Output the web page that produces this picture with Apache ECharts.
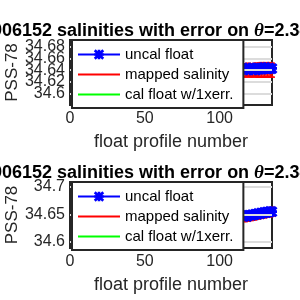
<!DOCTYPE html>
<html><head><meta charset="utf-8">
<script src="https://cdn.jsdelivr.net/npm/echarts@6/dist/echarts.min.js"></script>
<style>html,body{margin:0;padding:0;background:#fff}#c{width:300px;height:300px}</style>
</head><body><div id="c"></div>
<script>
var titleText = '6906152 salinities with error on ';
var titleTheta = 'θ';
var titleRest = '=2.34°C';
var legendNames = ['uncal float', 'mapped salinity', 'cal float w/1xerr.'];
var xTicks = [0, 50, 100];
var yTicksTop = [34.6, 34.62, 34.64, 34.66, 34.68];
var yTicksBottom = [34.6, 34.65, 34.7];

var profiles = [116,117,118,119,120,121,122,123,124,125,126,127,128,129,130,131,132,133,134,135];
var uncalTop = [34.641,34.643,34.640,34.642,34.644,34.641,34.643,34.642,34.640,34.643,34.644,34.642,34.641,34.643,34.645,34.642,34.643,34.644,34.642,34.643];
var mappedTop = [34.640,34.639,34.640,34.641,34.640,34.639,34.640,34.640,34.641,34.640,34.639,34.640,34.641,34.640,34.640,34.641,34.640,34.640,34.641,34.640];
var errTop = [0.011,0.011,0.011,0.011,0.011,0.011,0.011,0.011,0.011,0.012,0.011,0.012,0.012,0.012,0.012,0.012,0.012,0.012,0.012,0.012];
var calTop = [34.641,34.643,34.640,34.642,34.644,34.641,34.643,34.642,34.640,34.643,34.644,34.642,34.641,34.643,34.645,34.642,34.643,34.644,34.642,34.643];

var uncalBottom = [34.647,34.648,34.646,34.648,34.649,34.648,34.650,34.649,34.651,34.650,34.652,34.651,34.653,34.652,34.654,34.653,34.655,34.654,34.656,34.655];
var mappedBottom = [34.645,34.645,34.646,34.646,34.647,34.647,34.648,34.648,34.649,34.650,34.650,34.651,34.651,34.652,34.652,34.653,34.653,34.654,34.654,34.655];
var errBottom = [0.008,0.008,0.008,0.008,0.008,0.008,0.008,0.008,0.008,0.008,0.008,0.008,0.008,0.008,0.008,0.008,0.008,0.008,0.008,0.008];
var calBottom = [34.647,34.648,34.646,34.648,34.649,34.648,34.650,34.649,34.651,34.650,34.652,34.651,34.653,34.652,34.654,34.653,34.655,34.654,34.656,34.655];

var FONT = '"Liberation Sans", Arial, Helvetica, sans-serif';
var AX = '#262626';
var STAR = 'path://M3.6,0h2.8v10h-2.8z M0,3.6h10v2.8h-10z M1.5,-0.5l9,9 -2,2 -9,-9z M8.5,-0.5l2,2 -9,9 -2,-2z';

function pairs(xs, ys){ return xs.map(function(x,i){ return [x, ys[i]]; }); }
function errData(xs, m, e){ return xs.map(function(x,i){ return [x, m[i]-e[i], m[i]+e[i]]; }); }
function everyOther(arr, start){ return arr.filter(function(v,i){ return i % 2 === start; }); }
function errRender(params, api){
  var x = api.value(0);
  var lo = api.coord([x, api.value(1)]);
  var hi = api.coord([x, api.value(2)]);
  var w = 3;
  var st = {stroke:'#ff0000', lineWidth:1.5};
  return {type:'group', children:[
    {type:'line', shape:{x1:lo[0],y1:lo[1],x2:hi[0],y2:hi[1]}, style:st},
    {type:'line', shape:{x1:lo[0]-w,y1:lo[1],x2:lo[0]+w,y2:lo[1]}, style:st},
    {type:'line', shape:{x1:hi[0]-w,y1:hi[1],x2:hi[0]+w,y2:hi[1]}, style:st}
  ]};
}

var grids = [
  {left:70, right:28, top:40, height:65},
  {left:70, right:28, top:182, height:66}
];
var yRanges = [[34.58, 34.692], [34.589, 34.709]];
var yTickSets = [yTicksTop, yTicksBottom];
var titleTops = [22, 164];
var dataSets = [
  {u:uncalTop, m:mappedTop, e:errTop, c:calTop},
  {u:uncalBottom, m:mappedBottom, e:errBottom, c:calBottom}
];

var option = {
  backgroundColor:'#fff',
  animation:false,
  textStyle:{fontFamily:FONT},
  title:[], grid:[], xAxis:[], yAxis:[], series:[], legend:[]
};

function labelAxis(g, vals, withName){
  return {
    type:'value', gridIndex:g, position:'left', offset:0, min:yRanges[g][0], max:yRanges[g][1],
    axisLine:{show:false}, axisTick:{show:false}, splitLine:{show:false},
    axisLabel:{show:vals.length>0, customValues:vals, color:AX, fontSize:16, fontFamily:FONT, margin:5, showMinLabel:true, showMaxLabel:true, hideOverlap:false},
    name: withName ? 'PSS-78' : '', nameLocation:'middle', nameRotate:90, nameGap:49, nameMoveOverlap:false,
    nameTextStyle:{color:AX, fontSize:17, fontFamily:FONT}
  };
}

for (var g=0; g<2; g++){
  option.title.push({
    text:'{a|'+titleText+'}{b|'+titleTheta+'}{a|'+titleRest+'}',
    left:-18, top:titleTops[g], padding:0,
    textStyle:{rich:{
      a:{fontFamily:FONT, fontWeight:'bold', fontSize:18, color:'#000'},
      b:{fontFamily:'"Liberation Serif", "DejaVu Serif", serif', fontStyle:'italic', fontSize:19, color:'#000'}
    }}
  });
  option.grid.push(Object.assign({show:true, borderColor:AX, borderWidth:2, backgroundColor:'#fff', containLabel:false, outerBoundsMode:'none'}, grids[g]));
  option.xAxis.push({
    type:'value', gridIndex:g, min:0, max:135, interval:50,
    axisLine:{show:false}, axisTick:{show:false}, splitLine:{show:false},
    axisLabel:{customValues:xTicks, color:AX, fontSize:16, fontFamily:FONT, margin:6, showMinLabel:true, showMaxLabel:true},
    name:'float profile number', nameLocation:'middle', nameGap:28, nameMoveOverlap:false,
    nameTextStyle:{color:AX, fontSize:18, fontFamily:FONT}
  });
  var ticks = yTickSets[g];
  var base = option.yAxis.length;
  option.yAxis.push(labelAxis(g, everyOther(ticks, 0), true));
  option.yAxis.push(labelAxis(g, everyOther(ticks, 1), false));
  option.yAxis.push({
    type:'value', gridIndex:g, position:'right', min:yRanges[g][0], max:yRanges[g][1],
    axisLine:{show:false}, splitLine:{show:false}, axisLabel:{show:false},
    axisTick:{show:true, inside:true, length:4, customValues:ticks, lineStyle:{color:AX, width:2}}
  });
  var d = dataSets[g];
  var yi = base;
  option.series.push({
    type:'custom', name:'mapped err', xAxisIndex:g, yAxisIndex:yi, clip:false,
    renderItem:errRender, data:errData(profiles, d.m, d.e), z:3
  });
  option.series.push({
    type:'line', name:legendNames[1], xAxisIndex:g, yAxisIndex:yi, clip:false,
    symbol:'none', lineStyle:{color:'#ff0000', width:3}, itemStyle:{color:'#ff0000'},
    data:pairs(profiles, d.m), z:3
  });
  option.series.push({
    type:'line', name:legendNames[2], xAxisIndex:g, yAxisIndex:yi, clip:false,
    symbol:'none', lineStyle:{color:'#00ff00', width:3}, itemStyle:{color:'#00ff00'},
    data:pairs(profiles, d.c), z:2,
    markLine:{silent:true, symbol:'none', label:{show:false}, animation:false,
      lineStyle:{color:'#dcdcdc', width:2, type:'solid'},
      data:ticks.map(function(v){ return {yAxis:v}; })}
  });
  option.series.push({
    type:'line', name:legendNames[0], xAxisIndex:g, yAxisIndex:yi, clip:false,
    symbol:STAR, symbolSize:11, showAllSymbol:true,
    lineStyle:{color:'#0000ff', width:3}, itemStyle:{color:'#0000ff'},
    data:pairs(profiles, d.u), z:4
  });
  option.legend.push({
    data:[
      {name:legendNames[0]},
      {name:legendNames[1], itemStyle:{opacity:0}},
      {name:legendNames[2], itemStyle:{opacity:0}}
    ],
    orient:'vertical', left:72, top:grids[g].top,
    itemWidth:42, itemHeight:13, itemGap:5,
    padding:[7,10,6,5], borderColor:AX, borderWidth:2, backgroundColor:'#fff',
    selectedMode:false, z:10,
    textStyle:{color:'#000', fontSize:15, fontFamily:FONT, padding:[0,0,0,0]}
  });
}

var chart = echarts.init(document.getElementById('c'), null, {renderer:'canvas'});
chart.setOption(option);
</script>
</body></html>
